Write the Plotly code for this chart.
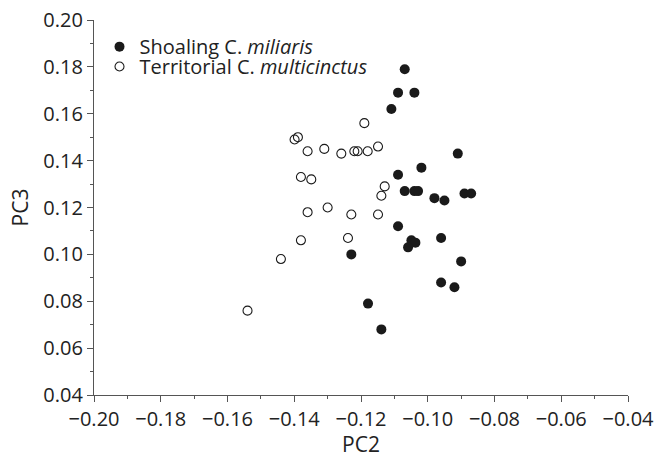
import plotly.graph_objects as go

# Shoaling C. miliaris (filled)
shoal_pc2 = [-0.1069, -0.1089, -0.1040, -0.1109, -0.0910, -0.1019, -0.1089, -0.1069,
             -0.1040, -0.1029, -0.0980, -0.0950, -0.0890, -0.0870, -0.1089, -0.1049,
             -0.1037, -0.1059, -0.0960, -0.1229, -0.0900, -0.0960, -0.0920, -0.1179,
             -0.1139]
shoal_pc3 = [0.179, 0.169, 0.169, 0.162, 0.143, 0.137, 0.134, 0.127,
             0.127, 0.127, 0.124, 0.123, 0.126, 0.126, 0.112, 0.106,
             0.105, 0.103, 0.107, 0.100, 0.097, 0.088, 0.086, 0.079,
             0.068]

# Territorial C. multicinctus (open)
terr_pc2 = [-0.1190, -0.1399, -0.1389, -0.1360, -0.1310, -0.1259, -0.1220, -0.1210,
            -0.1180, -0.1149, -0.1380, -0.1349, -0.1129, -0.1139, -0.1360, -0.1300,
            -0.1229, -0.1149, -0.1380, -0.1239, -0.1440, -0.1540]
terr_pc3 = [0.156, 0.149, 0.150, 0.144, 0.145, 0.143, 0.144, 0.144,
            0.144, 0.146, 0.133, 0.132, 0.129, 0.125, 0.118, 0.120,
            0.117, 0.117, 0.106, 0.107, 0.098, 0.076]

x_ticks = [-0.20, -0.18, -0.16, -0.14, -0.12, -0.10, -0.08, -0.06, -0.04]
y_ticks = [0.04, 0.06, 0.08, 0.10, 0.12, 0.14, 0.16, 0.18, 0.20]

FONT = "Open Sans"
INK = "#1a1a1a"
TXT = "#222222"
AXIS = "#555555"

fig = go.Figure()
fig.add_trace(go.Scatter(
    x=shoal_pc2, y=shoal_pc3, mode="markers",
    name="Shoaling C. <i>miliaris</i>", legend="legend",
    marker=dict(symbol="circle", size=10, color=INK, line=dict(width=0)),
))
fig.add_trace(go.Scatter(
    x=terr_pc2, y=terr_pc3, mode="markers",
    name="Territorial C. <i>multicinctus</i>", legend="legend2",
    marker=dict(symbol="circle-open", size=9, color=INK, line=dict(width=1.1)),
))

axis_common = dict(
    showline=True, linecolor=AXIS, linewidth=1.2,
    ticks="outside", ticklen=6, tickcolor=AXIS, tickwidth=1.2,
    showgrid=False, zeroline=False, ticklabeloverflow="allow",
    tickfont=dict(family=FONT, size=20, color=TXT),
    title_font=dict(family=FONT, size=21, color=TXT),
    minor=dict(ticks="outside", ticklen=3, tickcolor=AXIS, tickwidth=1, dtick=0.01, showgrid=False),
)

fig.update_xaxes(range=[-0.20, -0.04], tickvals=x_ticks,
                 ticktext=[f"\u2212{abs(v):.2f}" for v in x_ticks],
                 title_text="PC2", title_standoff=19, **axis_common)
fig.update_yaxes(range=[0.04, 0.20], tickvals=y_ticks,
                 ticktext=[f"{v:.2f}" for v in y_ticks],
                 title_text="PC3", title_standoff=8, **axis_common)

leg_common = dict(x=0.0103, xanchor="left", yanchor="middle",
                  bgcolor="rgba(0,0,0,0)", itemwidth=30,
                  font=dict(family=FONT, size=20, color=TXT))

fig.update_layout(
    width=665, height=458,
    margin=dict(l=93.5, r=37, t=20, b=63, autoexpand=False),
    paper_bgcolor="white", plot_bgcolor="white",
    font=dict(family=FONT, size=20, color=TXT),
    showlegend=True,
    legend=dict(y=0.929, **leg_common),
    legend2=dict(y=0.876, **leg_common),
)

fig.write_html("out.html",
               config={"displayModeBar": False},
               post_script="document.body.style.margin='0';document.body.style.overflow='hidden';")
